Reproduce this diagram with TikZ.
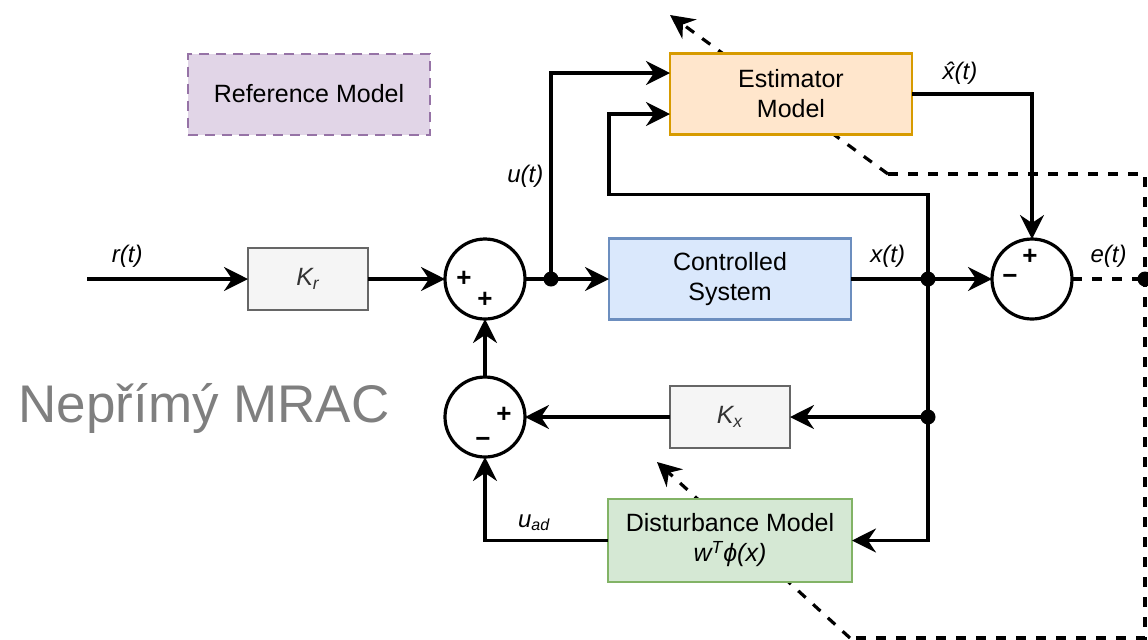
\documentclass[tikz,border=0pt]{standalone}
\usepackage{fontspec}
\setmainfont{Liberation Sans}
\usepackage{xcolor}
\definecolor{pale-purple}{HTML}{E1D5E7}
\definecolor{dark-purple}{HTML}{9673A6}
\definecolor{pale-orange}{HTML}{FFE6CC}
\definecolor{dark-orange}{HTML}{D79B00}
\definecolor{pale-blue}{HTML}{DAE8FC}
\definecolor{dark-blue}{HTML}{6C8EBF}
\definecolor{pale-gray}{HTML}{F5F5F5}
\definecolor{dark-gray}{HTML}{666666}
\definecolor{pale-green}{HTML}{D5E8D4}
\definecolor{dark-green}{HTML}{82B366}
\definecolor{title-gray}{HTML}{7F7F7F}
\usetikzlibrary{positioning}
\usetikzlibrary{arrows.meta}
\tikzset{box/.style = {draw, line width=1.3pt, align=center, text centered, minimum width=121pt, minimum height=40.5pt, inner sep=0pt, outer sep=0pt}}
\tikzset{gain/.style = {draw=dark-gray, fill=pale-gray, line width=1.3pt, minimum width=60pt, minimum height=31pt, outer sep=0pt, text=black!80}}
\tikzset{sum/.style = {draw, circle, line width=1.6pt, minimum size=40pt, inner sep=0pt, outer sep=0pt}}
\tikzset{sign/.style = {font=\fontsize{13}{13}\selectfont\bfseries, inner sep=0pt}}
\tikzset{arr/.style = {line width=1.6pt, -{Stealth[length=12pt, width=12pt, inset=4pt]}}}
\tikzset{wire/.style = {line width=1.6pt}}
\tikzset{adapt/.style = {line width=1.6pt, dash pattern=on 5pt off 5pt}}
\tikzset{dot/.style = {circle, fill, inner sep=0pt, minimum size=7.5pt}}
\tikzset{lbl/.style = {font=\fontsize{12}{12}\selectfont\itshape, inner sep=0pt}}

\begin{document}
\begin{tikzpicture}[x=0.5pt, y=-0.5pt, font=\fontsize{12.5}{15}\selectfont]
\useasboundingbox (0,0) rectangle (1148,639);

% free ends of the adaptation paths
\coordinate (e1) at (888,174);
\coordinate (e2) at (1145,174);
\coordinate (e3) at (1145,638);
\coordinate (e4) at (850,638);
\coordinate (t1) at (670,15);
\coordinate (t2) at (657,462);
% these run under the blocks
\draw[arr, adapt] (e1) -- (t1);
\draw[arr, adapt] (e4) -- (t2);

\node[gain] (kr) at (308,279) {\textit{K\textsubscript{r}}};
\node[sum, right=38.5pt of kr] (sa) {};
\node[box, draw=dark-blue, fill=pale-blue, right=42pt of sa] (sys) {Controlled\\System};
\node[sum, right=70.5pt of sys] (sc) {};
\node[box, draw=dark-orange, fill=pale-orange, above=52pt of sys, xshift=30.5pt] (est) {Estimator\\Model};
\node[box, draw=dark-purple, fill=pale-purple, line width=1pt, dash pattern=on 5pt off 3.5pt, left=120pt of est] (refm) {Reference Model};
\node[sum, below=29pt of sa] (sb) {};
\node[gain, right=72.5pt of sb] (kx) {\textit{K\textsubscript{x}}};
\node[box, draw=dark-green, fill=pale-green, below=25.5pt of kx, minimum width=122pt, minimum height=41.5pt] (dist) {Disturbance Model\\\textit{w\textsuperscript{T}ϕ(x)}};
\node[text=title-gray, font=\fontsize{26.5}{30}\selectfont] (title) at (204,408) {Nepřímý MRAC};

% signs
\node[sign] (sa-p1) at ([xshift=-10.5pt]sa.center) {+};
\node[sign] (sa-p2) at ([yshift=-10.5pt]sa.center) {+};
\node[sign] (sb-p1) at ([xshift=9.5pt, yshift=1pt]sb.center) {+};
\node[sign] (sb-m1) at ([xshift=-1pt, yshift=-12.5pt]sb.center) {−};
\node[sign] (sc-p1) at ([xshift=-1pt, yshift=11pt]sc.center) {+};
\node[sign] (sc-m1) at ([xshift=-11pt]sc.center) {−};

\coordinate (rin) at (87,279);
\coordinate (uj) at ([xshift=13pt]sa.east);
\coordinate (xj) at ([xshift=38.5pt]sys.east);
\coordinate (kxj) at (xj |- kx);
\coordinate (ej) at ([xshift=36.5pt]sc.east);
\coordinate (loop) at ([yshift=-30pt]est.south -| sys.west);

\draw[arr]  (rin) -- (kr) node[lbl, pos=0.25, above=5pt]{r(t)};
\draw[arr]  (kr) -- (sa);
\draw[arr]  (sa) -- (sys);
\draw[arr]  (uj) |- node[lbl, pos=0.25, left=3pt]{u(t)} ([yshift=10.5pt]est.west);
\draw[arr]  (sys) -- (sc) node[lbl, pos=0.26, above=5pt]{x(t)};
\draw[arr]  (est.east) -| node[lbl, pos=0.2, above=4pt]{\^{x}(t)} (sc.north);
\draw[arr]  (xj) |- (loop) |- ([yshift=-10pt]est.west);
\draw[wire] (xj) -- (kxj);
\draw[arr]  (kxj) -- (kx);
\draw[arr]  (kxj) |- (dist.east);
\draw[arr]  (kx) -- (sb);
\draw[arr]  (dist) -| node[lbl, pos=0.3, above=4pt]{u\textsubscript{ad}} (sb.south);
\draw[arr]  (sb) -- (sa);
\draw[adapt] (sc) -- (ej) node[lbl, midway, above=5pt]{e(t)};
\draw[adapt] (e1) -- (e2) -- (e3) -- (e4);

\node[dot] (d1) at (uj) {};
\node[dot] (d2) at (xj) {};
\node[dot] (d3) at (kxj) {};
\node[dot] (d4) at (ej) {};

\end{tikzpicture}
\end{document}
